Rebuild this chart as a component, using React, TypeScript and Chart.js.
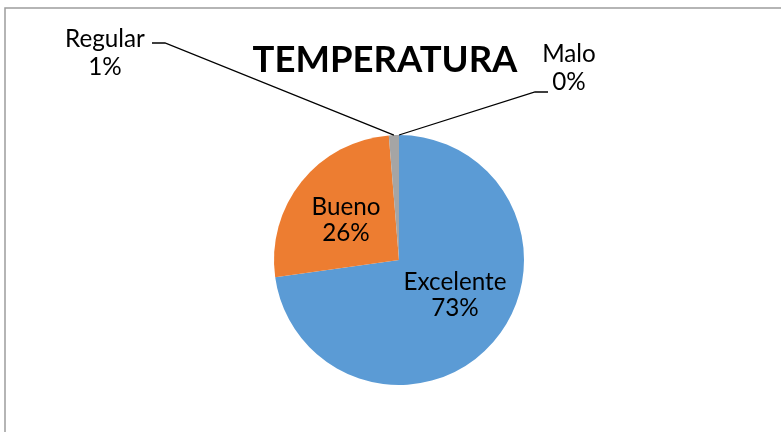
import React, { useEffect, useRef } from "react";
import { Chart, registerables } from "chart.js";

Chart.register(...registerables);

const chartTitle = "TEMPERATURA";
const categories = ["Excelente", "Bueno", "Regular", "Malo"];
const values = [72.8, 25.9, 1.3, 0];
const percentLabels = ["73%", "26%", "1%", "0%"];
const sliceColors = ["#5B9BD5", "#ED7D31", "#A5A5A5", "#FFC000"];

const FONT = "Lato, 'Noto Sans', sans-serif";

// label layout (Excel-style manual positions)
const labelLayout: Record<number, { cx: number; base1: number; base2: number; leader?: { elbow: [number, number]; end: [number, number] } }> = {
  0: { cx: 455, base1: 290, base2: 316 },
  1: { cx: 346, base1: 215, base2: 241 },
  2: { cx: 105, base1: 47, base2: 75, leader: { elbow: [165, 43], end: [152, 43] } },
  3: { cx: 569, base1: 62, base2: 90, leader: { elbow: [535, 92], end: [548, 92] } },
};

const overlayPlugin = {
  id: "overlay",
  afterDraw(chart: any) {
    const ctx: CanvasRenderingContext2D = chart.ctx;
    ctx.save();
    // frame
    ctx.strokeStyle = "#9D9D9D";
    ctx.lineWidth = 1.5;
    ctx.strokeRect(5, 8, 900, 600);

    // title
    ctx.font = `bold 100px ${FONT}`;
    const tw = ctx.measureText(chartTitle).width;
    const ts = (100 * 265) / tw;
    ctx.font = `bold ${ts}px ${FONT}`;
    ctx.fillStyle = "#000000";
    ctx.textAlign = "center";
    ctx.textBaseline = "alphabetic";
    ctx.fillText(chartTitle, 385, 72);

    // label font
    ctx.font = `100px ${FONT}`;
    const lw = ctx.measureText("Excelente").width;
    const ls = (100 * 103) / lw;
    ctx.font = `${ls}px ${FONT}`;

    const meta = chart.getDatasetMeta(0);
    meta.data.forEach((arc: any, i: number) => {
      const p = arc.getProps(["x", "y", "startAngle", "endAngle", "outerRadius"], true);
      const mid = (p.startAngle + p.endAngle) / 2;
      const o = labelLayout[i];
      if (o.leader) {
        const ex = p.x + Math.cos(mid) * p.outerRadius;
        const ey = p.y + Math.sin(mid) * p.outerRadius;
        ctx.strokeStyle = "#000000";
        ctx.lineWidth = 1.3;
        ctx.beginPath();
        ctx.moveTo(ex, ey);
        ctx.lineTo(o.leader.elbow[0], o.leader.elbow[1]);
        ctx.lineTo(o.leader.end[0], o.leader.end[1]);
        ctx.stroke();
      }
      ctx.fillStyle = "#000000";
      ctx.fillText(categories[i], o.cx, o.base1);
      ctx.fillText(percentLabels[i], o.cx, o.base2);
    });
    ctx.restore();
  },
};

export default function App() {
  const ref = useRef<HTMLCanvasElement>(null);
  useEffect(() => {
    if (!ref.current) return;
    const chart = new Chart(ref.current, {
      type: "pie",
      data: {
        labels: categories,
        datasets: [
          {
            data: values,
            backgroundColor: sliceColors,
            borderWidth: 0,
          },
        ],
      },
      options: {
        animation: false,
        responsive: true,
        maintainAspectRatio: false,
        layout: { padding: { top: 135, bottom: 47, left: 17, right: 0 } },
        plugins: {
          legend: { display: false },
          title: { display: false },
          tooltip: { enabled: false },
        },
        events: [],
      },
      plugins: [overlayPlugin],
    });
    return () => chart.destroy();
  }, []);
  return (
    <div style={{ position: "absolute", left: 0, top: 0, width: 781, height: 432, background: "#ffffff" }}>
      <canvas ref={ref} />
    </div>
  );
}
